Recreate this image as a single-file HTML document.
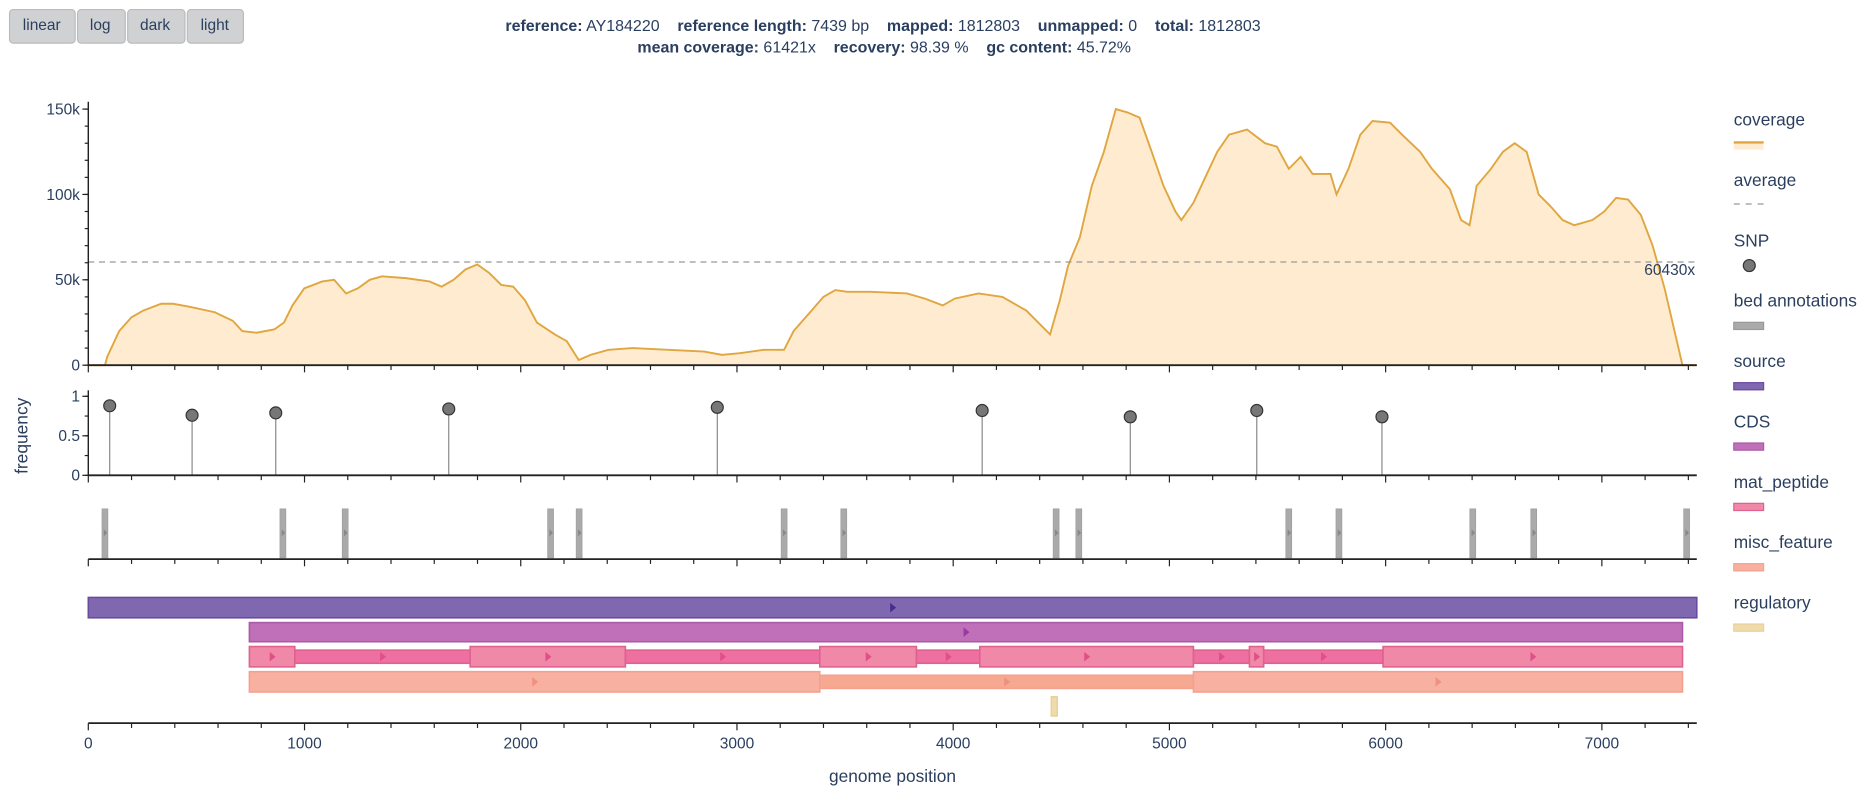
<!DOCTYPE html>
<html><head><meta charset="utf-8"><style>
html,body{margin:0;padding:0;background:#fff;overflow:hidden}
svg{display:block;font-family:"Liberation Sans",sans-serif}
</style></head><body>
<svg id="chart" width="1871" height="789" viewBox="0 0 1568 659" preserveAspectRatio="none">
<rect width="1568" height="659" fill="#fff"/>
<g font-size="13" fill="#2a3f5f">
<g><rect x="8" y="8" width="55" height="28" rx="3" fill="#d0d1d3" stroke="#bbb"/><text x="35" y="25" text-anchor="middle">linear</text></g>
<g><rect x="65" y="8" width="40" height="28" rx="3" fill="#d0d1d3" stroke="#bbb"/><text x="84" y="25" text-anchor="middle">log</text></g>
<g><rect x="107" y="8" width="48" height="28" rx="3" fill="#d0d1d3" stroke="#bbb"/><text x="130" y="25" text-anchor="middle">dark</text></g>
<g><rect x="157" y="8" width="47" height="28" rx="3" fill="#d0d1d3" stroke="#bbb"/><text x="180" y="25" text-anchor="middle">light</text></g>
</g>
<g font-size="13.4" fill="#2a3f5f">
<text x="740" y="26" text-anchor="middle"><tspan font-weight="bold">reference:</tspan> AY184220 &#160;&#160; <tspan font-weight="bold">reference length:</tspan> 7439 bp &#160;&#160; <tspan font-weight="bold">mapped:</tspan> 1812803 &#160;&#160; <tspan font-weight="bold">unmapped:</tspan> 0 &#160;&#160; <tspan font-weight="bold">total:</tspan> 1812803</text>
<text x="741" y="44" text-anchor="middle"><tspan font-weight="bold">mean coverage:</tspan> 61421x &#160;&#160; <tspan font-weight="bold">recovery:</tspan> 98.39 % &#160;&#160; <tspan font-weight="bold">gc content:</tspan> 45.72%</text>
</g>
<g id="plots"></g>
<g id="legend" font-size="14.5" fill="#2a3f5f"></g>
</svg>
<script>
const covPos=[0,77,88,143,199,254,337,392,475,585,668,712,778,861,905,944,999,1082,1137,1192,1247,1302,1358,1468,1578,1634,1689,1744,1799,1854,1910,1965,2020,2075,2158,2213,2268,2323,2406,2517,2682,2848,2931,3013,3124,3218,3262,3345,3400,3455,3510,3620,3786,3869,3952,4007,4117,4228,4338,4448,4493,4531,4586,4641,4697,4752,4807,4862,4918,4973,5028,5055,5111,5166,5221,5276,5359,5442,5497,5552,5607,5662,5745,5773,5828,5883,5939,6021,6076,6159,6214,6297,6349,6388,6421,6487,6542,6597,6652,6708,6763,6818,6873,6956,7011,7066,7121,7180,7235,7290,7345,7373,7439];
const covVal=[0,0,5,20,28,32,36,36,34,31,26,20,19,21,25,35,45,49,50,42,45,50,52,51,49,46,50,56,59,54,47,46,38,25,18,14,3,6,9,10,9,8,6,7,9,9,20,32,40,44,43,43,42,39,35,39,42,40,32,18,38,58,75,105,125,150,148,145,125,105,90,85,95,110,125,135,138,130,128,115,122,112,112,100,115,135,143,142,135,125,115,103,85,82,105,115,125,130,125,100,93,85,82,85,90,98,97,88,70,45,15,0,0];
const snpPos=[99,480,867,1667,2909,4134,4819,5404,5983];
const snpFreq=[0.88,0.76,0.79,0.84,0.86,0.82,0.74,0.82,0.74];
const bedPos=[77,900,1188,2138,2270,3218,3494,4476,4581,5552,5784,6403,6685,7392];
const featStart=[0,745,745,955,1766,2484,3383,3830,4123,5111,5370,5436,5988,745,3383,5111,4454];
const featEnd=[7439,7373,955,1766,2484,3383,3830,4123,5111,5370,5436,5988,7373,3383,5111,7373,4481];
const featType=["source","CDS","mat_peptide","mat_peptide","mat_peptide","mat_peptide","mat_peptide","mat_peptide","mat_peptide","mat_peptide","mat_peptide","mat_peptide","mat_peptide","misc_feature","misc_feature","misc_feature","regulatory"];
const featThin=[0,0,0,1,0,1,0,1,0,1,0,1,0,0,1,0,0];
const avgCov=60430;
const xTicks=[0,1000,2000,3000,4000,5000,6000,7000];
const covTicks=[0,50000,100000,150000];
const covTickLabels=["0","50k","100k","150k"];
const freqTicks=[0,0.5,1];
const freqTickLabels=["0","0.5","1"];
const legendNames=["coverage","average","SNP","bed annotations","source","CDS","mat_peptide","misc_feature","regulatory"];

const NS="http://www.w3.org/2000/svg";
const X0=74,X1=1422,GMAX=7439;
const x=v=>X0+(v/GMAX)*(X1-X0);
const yCov=v=>305-v/50000*71.3;
const yFreq=v=>397-v*66;
const g=document.getElementById('plots');
function el(t,a,p){const e=document.createElementNS(NS,t);for(const k in a)e.setAttribute(k,a[k]);(p||g).appendChild(e);return e;}
const TXT="#2a3f5f";

let d="M"+x(covPos[0])+","+yCov(0);
for(let i=0;i<covPos.length;i++)d+=" L"+x(covPos[i]).toFixed(1)+","+yCov(covVal[i]*1000).toFixed(1);
const area=el('path',{d:d+" L"+x(covPos[covPos.length-1])+","+yCov(0)+" Z",fill:"#ffecd0",stroke:"none"});


let ld="";
for(let i=0;i<covPos.length;i++)ld+=(i?" L":"M")+x(covPos[i]).toFixed(1)+","+yCov(covVal[i]*1000).toFixed(1);
const line=el('path',{d:ld,fill:"none",stroke:"#e0a640","stroke-width":1.6});


const avg=el('line',{x1:X0,x2:X1,y1:yCov(avgCov),y2:yCov(avgCov),stroke:"#999","stroke-dasharray":"5,4","stroke-width":1});


const avgT=el('text',{x:1378,y:yCov(avgCov)+11,"font-size":13,fill:TXT});
avgT.textContent=avgCov+"x";



function xAxis(y,labels,name){
  const ax=el('line',{x1:X0,x2:X1,y1:y,y2:y,stroke:"#222","stroke-width":1.5});
  
  
  for(let v=0;v<=GMAX;v+=200){const big=v%1000===0;el('line',{x1:x(v),x2:x(v),y1:y,y2:y+(big?6:4),stroke:"#222","stroke-width":1});}
  if(labels)xTicks.forEach(v=>{const t=el('text',{x:x(v),y:y+21,"font-size":13,fill:TXT,"text-anchor":"middle"});t.textContent=v;
    
    });
}
function yAxis(y0,y1,ticks,labels,fy,minor,name){
  const ax=el('line',{x1:X0,x2:X0,y1:y0,y2:y1,stroke:"#222","stroke-width":1.2});
  
  
  minor.forEach(v=>el('line',{x1:X0-3,x2:X0,y1:fy(v),y2:fy(v),stroke:"#222"}));
  ticks.forEach((v,i)=>{el('line',{x1:X0-5,x2:X0,y1:fy(v),y2:fy(v),stroke:"#222"});
    const t=el('text',{x:X0-7,y:fy(v)+4.5,"font-size":13,fill:TXT,"text-anchor":"end"});t.textContent=labels[i];
    
    });
}
const covMinor=[];for(let v=0;v<=150000;v+=10000)covMinor.push(v);
yAxis(85,305,covTicks,covTickLabels,yCov,covMinor,'coverage-y-axis');
xAxis(305,false,'coverage-x-axis');

snpPos.forEach((p,i)=>{
  const s=el('line',{x1:x(p),x2:x(p),y1:yFreq(0),y2:yFreq(snpFreq[i]),stroke:"#888","stroke-width":1});
  
  
  const c=el('circle',{cx:x(p),cy:yFreq(snpFreq[i]),r:5,fill:"#777",stroke:"#333","stroke-width":1});
  
  
});
yAxis(326,397,freqTicks,freqTickLabels,yFreq,[0,0.25,0.5,0.75,1],'frequency-y-axis');
xAxis(397,false,'snp-x-axis');
const ft=el('text',{transform:"translate(23,364) rotate(-90)","font-size":14.5,fill:TXT,"text-anchor":"middle"});
ft.textContent="frequency";



bedPos.forEach((p,i)=>{
  const r=el('rect',{x:x(p)-2.5,y:425,width:5,height:41,fill:"#aaa",stroke:"#999","stroke-width":0.5});
  
  
  el('path',{d:`M${x(p)-1},442 L${x(p)+2},445 L${x(p)-1},448 Z`,fill:"#888"});
});
xAxis(467,false,'bed-x-axis');

const rowY={source:[499,516],CDS:[520,536],mat_peptide:[540,557],misc_feature:[561,578],regulatory:[582,598]};
const fillC={source:"#8068b0",CDS:"#c070b8",mat_peptide:"#f088a8",misc_feature:"#f8b0a0",regulatory:"#f0dcaa"};
const thinC={mat_peptide:"#ee70a0",misc_feature:"#f6a890"};
const strokeC={source:"#6a4a9c",CDS:"#a85aa8",mat_peptide:"#e06090",misc_feature:"#f4a090",regulatory:"#e8d098"};
const arrC={source:"#4a2a8c",CDS:"#9a3aa0",mat_peptide:"#e05088",misc_feature:"#f09080",regulatory:"#e0c080"};
featStart.forEach((s,i)=>{
  const t=featType[i];let [a,b]=rowY[t];
  if(featThin[i]){a+=3;b-=3;}
  const r=el('rect',{x:x(s),y:a,width:x(featEnd[i])-x(s),height:b-a,fill:featThin[i]?thinC[t]:fillC[t],stroke:strokeC[t],"stroke-width":1.3});
  
  
  const mx=(x(s)+x(featEnd[i]))/2,my=(a+b)/2;
  if(t!=="regulatory")el('path',{d:`M${mx-2},${my-4} L${mx+3},${my} L${mx-2},${my+4} Z`,fill:arrC[t]});
});
xAxis(604,true,'genome-x-axis');
const gt=el('text',{x:748,y:653,"font-size":14.5,fill:TXT,"text-anchor":"middle"});
gt.textContent="genome position";



const lg=document.getElementById('legend');
legendNames.forEach((n,i)=>{
  const y=100+i*50.4;
  const t=el('text',{x:1453,y:y+5,fill:TXT},lg);t.textContent=n;
  
  
  const sy=y+20;
  if(n==="coverage"){el('rect',{x:1453,y:sy-1,width:25,height:6,fill:"#ffecd0"},lg);el('line',{x1:1453,x2:1478,y1:sy-1,y2:sy-1,stroke:"#e0a640","stroke-width":2},lg);}
  else if(n==="average")el('line',{x1:1453,x2:1478,y1:sy,y2:sy,stroke:"#999","stroke-dasharray":"5,5"},lg);
  else if(n==="SNP")el('circle',{cx:1466,cy:sy+1,r:5,fill:"#777",stroke:"#333"},lg);
  else{const c=n==="bed annotations"?"#aaa":fillC[n];const sc=n==="bed annotations"?"#999":strokeC[n];
    el('rect',{x:1453,y:sy-2,width:25,height:6,fill:c,stroke:sc,"stroke-width":1},lg);}
});
</script>
</body></html>
